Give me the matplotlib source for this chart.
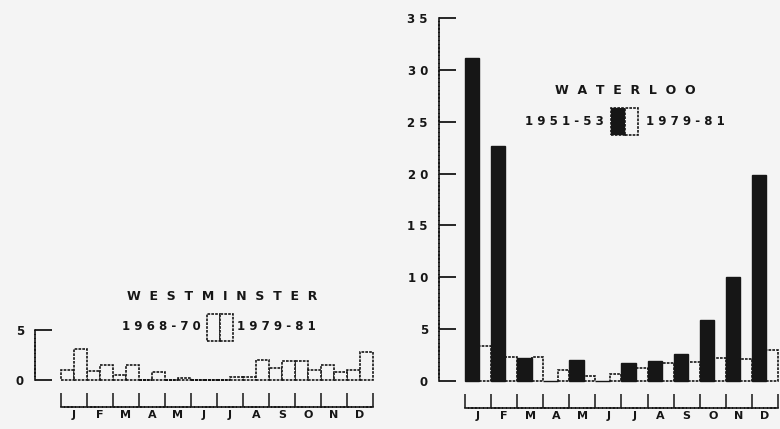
import matplotlib.pyplot as plt
from matplotlib.patches import Rectangle
import numpy as np

months = ['J', 'F', 'M', 'A', 'M', 'J', 'J', 'A', 'S', 'O', 'N', 'D']

# Westminster, two periods (both drawn as open bars)
westminster_6870 = [1.0, 0.95, 0.5, 0.0, 0.0, 0.05, 0.0, 0.35, 1.2, 1.9, 1.55, 1.05]
westminster_7981 = [3.1, 1.55, 1.55, 0.8, 0.2, 0.05, 0.35, 2.0, 1.9, 1.0, 0.8, 2.8]

# Waterloo, 1951-53 filled, 1979-81 open
waterloo_5153 = [31.1, 22.7, 2.2, 0.0, 2.05, 0.0, 1.75, 1.9, 2.6, 5.9, 10.0, 19.9]
waterloo_7981 = [3.4, 2.3, 2.3, 1.1, 0.45, 0.7, 1.25, 1.7, 1.85, 2.2, 2.1, 3.0]

waterloo_yticks = [0, 5, 10, 15, 20, 25, 30, 35]
westminster_yticks = [0, 5]

W, H = 780, 429
BG = '#f4f4f4'
INK = '#161616'
DOT = (0, (1.6, 0.7))

plt.rcParams['font.family'] = 'DejaVu Sans'
plt.rcParams['font.weight'] = 'bold'

fig = plt.figure(figsize=(W / 100, H / 100), dpi=100, facecolor=BG)


def px_axes(left, right, top, bottom):
    ax = fig.add_axes([left / W, 1 - bottom / H, (right - left) / W, (bottom - top) / H])
    ax.set_facecolor('none')
    return ax


def spaced(s):
    return ' '.join(s)


def style_axes(ax, yticks, ylabels):
    for side in ('top', 'right'):
        ax.spines[side].set_visible(False)
    ax.spines['left'].set_bounds(yticks[0], yticks[-1])
    ax.spines['bottom'].set_bounds(0, 12)
    for side in ('left', 'bottom'):
        ax.spines[side].set_linestyle(DOT)
        ax.spines[side].set_linewidth(1.2)
        ax.spines[side].set_color(INK)
    ax.set_yticks(yticks)
    ax.set_yticklabels(ylabels)
    ax.tick_params(axis='y', direction='in', length=12, width=1.3, color=INK,
                   pad=8, labelsize=8.5, labelcolor=INK)
    ax.set_xticks(np.arange(13))
    ax.set_xticklabels([])
    ax.set_xticks(np.arange(12) + 0.5, minor=True)
    ax.set_xticklabels(months, minor=True)
    ax.tick_params(axis='x', which='major', direction='in', length=10, width=1.1, color=INK)
    ax.tick_params(axis='x', which='minor', length=0, pad=2.5, labelsize=8, labelcolor=INK)


def legend_box(x0, x1, y0, y1, left_fill):
    half = (x1 - x0) / 2
    fig.add_artist(Rectangle((x0 / W, 1 - y1 / H), half / W, (y1 - y0) / H,
                             transform=fig.transFigure, facecolor=left_fill,
                             edgecolor=INK, linewidth=1.2, linestyle=DOT))
    fig.add_artist(Rectangle(((x0 + half) / W, 1 - y1 / H), half / W, (y1 - y0) / H,
                             transform=fig.transFigure, facecolor=BG,
                             edgecolor=INK, linewidth=1.2, linestyle=DOT))


x = np.arange(12)

# Waterloo
ax2 = px_axes(439, 780, 18, 408)
ax2.set_xlim(-1, 12.08)
ax2.set_ylim(-2.6, 35)
ax2.bar(x + 0.55, waterloo_7981, width=0.45, align='edge', facecolor=BG,
        edgecolor=INK, linewidth=1.2, linestyle=DOT)
ax2.bar(x, waterloo_5153, width=0.55, align='edge', facecolor=INK,
        edgecolor=INK, linewidth=1.0)
style_axes(ax2, waterloo_yticks, [spaced(str(v)) for v in waterloo_yticks])

fig.text(625 / W, 1 - 90 / H, '  '.join('WATERLOO'), ha='center', va='center',
         fontsize=9, color=INK)
fig.text(604 / W, 1 - 122 / H, spaced('1951-53'), ha='right', va='center',
         fontsize=8.5, color=INK)
fig.text(646 / W, 1 - 122 / H, spaced('1979-81'), ha='left', va='center',
         fontsize=8.5, color=INK)
legend_box(611, 638, 108, 135, INK)

# Westminster
ax1 = px_axes(35, 380, 330, 407)
ax1.set_xlim(-1, 12.27)
ax1.set_ylim(-2.7, 5)
ax1.bar(x, westminster_6870, width=0.5, align='edge', facecolor=BG,
        edgecolor=INK, linewidth=1.2, linestyle=DOT)
ax1.bar(x + 0.5, westminster_7981, width=0.5, align='edge', facecolor=BG,
        edgecolor=INK, linewidth=1.2, linestyle=DOT)
style_axes(ax1, westminster_yticks, [str(v) for v in westminster_yticks])

fig.text(222 / W, 1 - 296 / H, '  '.join('WESTMINSTER'), ha='center', va='center',
         fontsize=9, color=INK)
fig.text(201 / W, 1 - 327 / H, spaced('1968-70'), ha='right', va='center',
         fontsize=8.5, color=INK)
fig.text(237 / W, 1 - 327 / H, spaced('1979-81'), ha='left', va='center',
         fontsize=8.5, color=INK)
legend_box(207, 233, 314, 341, BG)

fig.savefig('out.png', dpi=100, facecolor=BG)
